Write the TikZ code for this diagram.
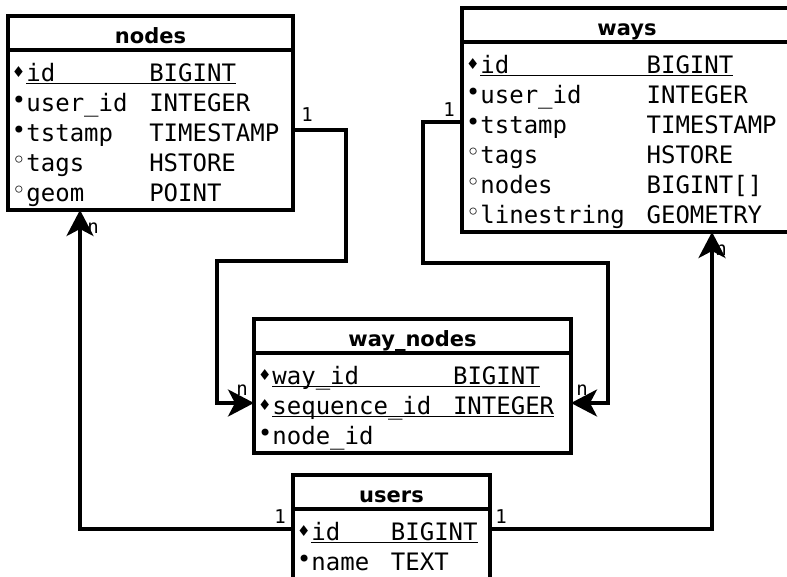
\documentclass[tikz,border=0pt]{standalone}
\usepackage{fontspec}
\usetikzlibrary{arrows.meta,positioning,calc,fit}
\newfontfamily\monofont{DejaVu Sans Mono}
\newfontfamily\headfont{DejaVu Sans}
\newfontfamily\symfont{DejaVu Sans}

\newlength\cw
\newlength\tw
% column markers: key, not null, nullable
\newcommand\symbox[3]{\makebox[\cw][l]{\raisebox{#3}{\symfont\fontsize{#2}{#2}\selectfont#1}}}
\newcommand\pkdot{\symbox{♦}{15}{4.5pt}}
\newcommand\nndot{\symbox{•}{24}{3pt}}
\newcommand\nulldot{\symbox{◦}{24}{3pt}}
% #1 name column (in chars), #2 name, #3 type
\newcommand\keyfield[3]{\settowidth\cw{0}\settowidth\tw{#3}%
  \pkdot\rlap{\rule[-2.5pt]{\dimexpr#1\cw+\tw\relax}{1.4pt}}\makebox[#1\cw][l]{#2}#3}
\newcommand\field[4]{\settowidth\cw{0}#1\makebox[#2\cw][l]{#3}#4}

\begin{document}
\begin{tikzpicture}[x=1pt,y=-1pt,
  tabhead/.style={draw,line width=3.5pt,outer sep=0pt,inner sep=0pt,minimum height=34pt,
    text height=27.3pt,text depth=6.7pt,font=\headfont\bfseries\fontsize{21}{21}\selectfont},
  tabrow/.style={outer sep=0pt,inner xsep=4pt,inner ysep=0pt,text width=#1,align=left,
    text height=26.7pt,text depth=3.3pt,anchor=north,font=\monofont\fontsize{24}{24}\selectfont},
  tabframe/.style={draw,line width=3.5pt,inner sep=0pt,outer sep=0pt},
  link/.style={line width=3.5pt,-{Stealth[length=26pt,width=27pt,inset=7pt]}},
  card/.style={font=\monofont\fontsize{19}{19}\selectfont,inner sep=0pt}]
  \path[use as bounding box,fill=white] (0,0) rectangle (787,576);

  % nodes
  \node[tabhead,minimum width=285pt] (nodes) at (150.5,33) {nodes};
  \foreach \i/\n/\txt in {0/id/{\keyfield{8.5}{id}{BIGINT}},
      1/userid/{\field\nndot{8.5}{user\_id}{INTEGER}},
      2/tstamp/{\field\nndot{8.5}{tstamp}{TIMESTAMP}},
      3/tags/{\field\nulldot{8.5}{tags}{HSTORE}},
      4/geom/{\field\nulldot{8.5}{geom}{POINT}}}
    \node[tabrow=277pt] (nodes-\n) at (150.5,{55+30*\i}) {\txt};
  \coordinate (nodes-end) at ($(nodes-geom.south)+(0,5)$);
  \node[tabframe,fit=(nodes)(nodes-end)] (nodes-box) {};

  % ways
  \node[tabhead,minimum width=330pt] (ways) at (627,25) {ways};
  \foreach \i/\n/\txt in {0/id/{\keyfield{11.5}{id}{BIGINT}},
      1/userid/{\field\nndot{11.5}{user\_id}{INTEGER}},
      2/tstamp/{\field\nndot{11.5}{tstamp}{TIMESTAMP}},
      3/tags/{\field\nulldot{11.5}{tags}{HSTORE}},
      4/nodes/{\field\nulldot{11.5}{nodes}{BIGINT[]}},
      5/linestring/{\field\nulldot{11.5}{linestring}{GEOMETRY}}}
    \node[tabrow=322pt] (ways-\n) at (627,{47+30*\i}) {\txt};
  \coordinate (ways-end) at ($(ways-linestring.south)+(0,5)$);
  \node[tabframe,fit=(ways)(ways-end)] (ways-box) {};

  % way_nodes
  \node[tabhead,minimum width=317pt] (waynodes) at (412.5,336) {way\_nodes};
  \foreach \i/\n/\txt in {0/way/{\keyfield{12.5}{way\_id}{BIGINT}},
      1/seq/{\keyfield{12.5}{sequence\_id}{INTEGER}},
      2/node/{\field\nndot{12.5}{node\_id}{}}}
    \node[tabrow=309pt] (waynodes-\n) at (412.5,{358+30*\i}) {\txt};
  \coordinate (waynodes-end) at ($(waynodes-node.south)+(0,5)$);
  \node[tabframe,fit=(waynodes)(waynodes-end)] (waynodes-box) {};

  % users
  \node[tabhead,minimum width=197pt] (users) at (391.5,492) {users};
  \foreach \i/\n/\txt in {0/id/{\keyfield{5.5}{id}{BIGINT}},
      1/name/{\field\nndot{5.5}{name}{TEXT}}}
    \node[tabrow=189pt] (users-\n) at (391.5,{514+30*\i}) {\txt};
  \coordinate (users-end) at ($(users-name.south)+(0,5)$);
  \node[tabframe,fit=(users)(users-end)] (users-box) {};

  % references
  \draw[link] (nodes-tstamp.east) -- node[card,pos=0,xshift=14pt,yshift=15pt]{1} ++(53,0)
    -- ++(0,131) -- ++(-129,0) |- node[card,pos=1,xshift=-12pt,yshift=13pt]{n} (waynodes-seq.west);
  \draw[link] (ways-tstamp.west) -- node[card,pos=0,xshift=-13pt,yshift=12pt]{1} ++(-39,0)
    -- ++(0,141) -- ++(185,0) |- node[card,pos=1,xshift=11pt,yshift=13pt]{n} (waynodes-seq.east);
  \draw[link] (users-id.west) -| node[card,pos=0,xshift=-13pt,yshift=12pt]{1}
    node[card,pos=1,xshift=13pt,yshift=-18pt]{n} ([xshift=-70.5pt]nodes-box.south);
  \draw[link] (users-id.east) -| node[card,pos=0,xshift=11pt,yshift=12pt]{1}
    node[card,pos=1,xshift=9pt,yshift=-18pt]{n} ([xshift=85pt]ways-box.south);
\end{tikzpicture}
\end{document}
